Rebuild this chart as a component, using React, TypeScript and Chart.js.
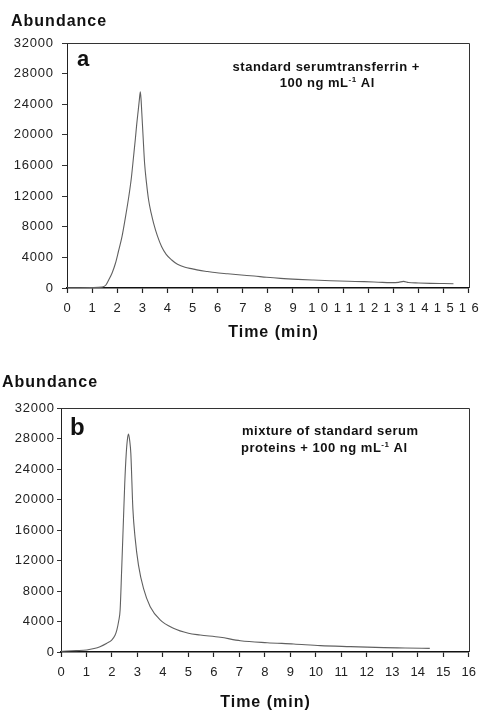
import React, { useEffect, useRef } from 'react';
import { Chart, registerables } from 'chart.js';

Chart.register(...registerables);

const FONT = '"Liberation Sans", Arial, Helvetica, sans-serif';

// ---- Panel a: standard serum transferrin + 100 ng/mL Al ----
const timeA = [0, 0.5, 1.0, 1.4, 1.55, 1.66, 1.8, 1.93, 2.05, 2.19, 2.32, 2.46, 2.56, 2.65, 2.72, 2.78, 2.84, 2.88, 2.92, 2.95, 2.98, 3.03, 3.09, 3.17, 3.25, 3.35, 3.45, 3.6, 3.77, 3.95, 4.17, 4.4, 4.7, 5.0, 5.23, 5.6, 5.89, 6.4, 6.94, 7.45, 7.95, 8.5, 9.19, 9.8, 10.5, 11.2, 11.83, 12.4, 12.88, 13.2, 13.4, 13.6, 14.0, 14.47, 15.0, 15.39];
const abundanceA = [30, 40, 60, 120, 390, 1040, 2000, 3230, 4800, 6700, 9100, 11920, 14300, 17150, 19400, 21500, 23300, 24550, 25640, 24600, 22820, 19800, 16290, 13600, 11490, 9800, 8450, 6800, 5390, 4400, 3660, 3100, 2700, 2500, 2330, 2150, 2020, 1860, 1700, 1560, 1400, 1260, 1130, 1040, 950, 880, 830, 760, 700, 740, 870, 720, 660, 610, 580, 560];

// ---- Panel b: mixture of standard serum proteins + 100 ng/mL Al ----
const timeB = [0, 0.22, 0.6, 1.01, 1.3, 1.53, 1.8, 1.99, 2.12, 2.19, 2.26, 2.32, 2.38, 2.45, 2.5, 2.56, 2.61, 2.65, 2.7, 2.74, 2.82, 2.91, 3.04, 3.24, 3.5, 3.89, 4.41, 5.0, 5.46, 6.25, 7.04, 8.09, 9.13, 10.18, 11.36, 12.67, 13.5, 14.47];
const abundanceB = [80, 130, 180, 260, 450, 700, 1150, 1570, 2200, 2880, 4000, 5500, 10750, 17300, 22000, 26050, 28000, 28580, 27600, 26050, 18800, 14900, 11400, 8300, 5940, 4200, 3100, 2450, 2230, 1930, 1480, 1220, 1050, 830, 700, 570, 530, 480];

const xTicks = [0, 1, 2, 3, 4, 5, 6, 7, 8, 9, 10, 11, 12, 13, 14, 15, 16];
const yTicks = [0, 4000, 8000, 12000, 16000, 20000, 24000, 28000, 32000];

const yTitle = 'Abundance';
const xTitle = 'Time (min)';
const letterA = 'a';
const letterB = 'b';
const noteA1 = 'standard serumtransferrin +';
const noteA2 = ['100 ng mL', '-1', ' Al'];
const noteB1 = 'mixture of standard serum';
const noteB2 = ['proteins + 100 ng mL', '-1', ' Al'];

type Layout = {
  height: number;
  yW: number; xH: number; padTop: number; padRight: number;
  yTickLen: number; yPad: number; xPad: number; xLs: number;
  titleX: number; titleY: number;
  letter: string; letterX: number; letterY: number; letterSize: number;
  note1: string; note1X: number; note1Y: number;
  note2: string[]; note2X: number; note2Y: number;
  xTitleX: number; xTitleY: number;
};

function drawText(ctx: CanvasRenderingContext2D, s: string, x: number, y: number, font: string, ls: number, align: 'left' | 'center') {
  ctx.save();
  ctx.font = font;
  (ctx as any).letterSpacing = ls + 'px';
  ctx.fillStyle = '#111';
  ctx.textBaseline = 'alphabetic';
  ctx.textAlign = 'left';
  const w = ctx.measureText(s).width - ls;
  const x0 = align === 'center' ? x - w / 2 : x;
  ctx.fillText(s, x0, y);
  ctx.restore();
}

function drawSupLine(ctx: CanvasRenderingContext2D, parts: string[], cx: number, y: number) {
  const big = `bold 13px ${FONT}`;
  const small = `bold 8px ${FONT}`;
  const ls = 0.5;
  ctx.save();
  (ctx as any).letterSpacing = ls + 'px';
  ctx.fillStyle = '#111';
  ctx.textAlign = 'left';
  ctx.textBaseline = 'alphabetic';
  const fonts = [big, small, big];
  const widths = parts.map((p, i) => { ctx.font = fonts[i]; return ctx.measureText(p).width; });
  const total = widths.reduce((a, b) => a + b, 0) - ls;
  let x = cx - total / 2;
  parts.forEach((p, i) => {
    ctx.font = fonts[i];
    ctx.fillText(p, x, i === 1 ? y - 5 : y);
    x += widths[i];
  });
  ctx.restore();
}

function patchSpacing(scale: any, ls: number, shift: number) {
  if (!scale || scale.__patched) return;
  const orig = scale.drawLabels.bind(scale);
  scale.drawLabels = (area: any) => {
    const ctx = scale.ctx as CanvasRenderingContext2D;
    ctx.save();
    (ctx as any).letterSpacing = ls + 'px';
    ctx.translate(shift, 0);
    orig(area);
    ctx.restore();
  };
  scale.__patched = true;
}

function makeConfig(times: number[], values: number[], L: Layout): any {
  return {
    type: 'line',
    data: {
      datasets: [{
        data: times.map((t, i) => ({ x: t, y: values[i] })),
        borderColor: '#606060',
        borderWidth: 1.1,
        pointRadius: 0,
        cubicInterpolationMode: 'monotone',
        fill: false,
      }],
    },
    options: {
      animation: false,
      responsive: false,
      events: [],
      layout: { padding: { top: L.padTop, right: L.padRight, left: 0, bottom: 0 } },
      plugins: { legend: { display: false }, tooltip: { enabled: false } },
      scales: {
        x: {
          type: 'linear', min: 0, max: 16,
          afterBuildTicks: (s: any) => { s.ticks = xTicks.map(v => ({ value: v })); },
          afterFit: (s: any) => { s.height = L.xH; },
          ticks: { autoSkip: false, maxRotation: 0, minRotation: 0, padding: L.xPad, color: '#222', font: { size: 13, family: FONT }, callback: (v: any) => String(v) },
          grid: { display: true, drawOnChartArea: false, drawTicks: true, tickLength: 5, tickColor: '#222', tickWidth: 1.2, color: '#222' },
          border: { display: true, color: '#111', width: 1.5 },
        },
        y: {
          type: 'linear', min: 0, max: 32000,
          afterBuildTicks: (s: any) => { s.ticks = yTicks.map(v => ({ value: v })); },
          afterFit: (s: any) => { s.width = L.yW; },
          ticks: { autoSkip: false, padding: L.yPad, color: '#222', font: { size: 13, family: FONT }, callback: (v: any) => String(v) },
          grid: { display: true, drawOnChartArea: false, drawTicks: true, tickLength: L.yTickLen, tickColor: '#333', tickWidth: 1, color: '#333' },
          border: { display: true, color: '#222', width: 1 },
        },
      },
    },
    plugins: [{
      id: 'decor',
      afterUpdate(chart: any) {
        patchSpacing(chart.scales.x, L.xLs, L.xLs / 2);
        patchSpacing(chart.scales.y, 0.8, 0.8);
      },
      afterDraw(chart: any) {
        const ctx = chart.ctx as CanvasRenderingContext2D;
        const a = chart.chartArea;
        ctx.save();
        ctx.strokeStyle = '#333';
        ctx.lineWidth = 1;
        ctx.beginPath();
        ctx.moveTo(a.left, Math.round(a.top) + 0.5);
        ctx.lineTo(Math.round(a.right) + 0.5, Math.round(a.top) + 0.5);
        ctx.lineTo(Math.round(a.right) + 0.5, a.bottom);
        ctx.stroke();
        ctx.restore();
        drawText(ctx, yTitle, L.titleX, L.titleY, `bold 16px ${FONT}`, 1, 'left');
        drawText(ctx, L.letter, L.letterX, L.letterY, `bold ${L.letterSize}px ${FONT}`, 0, 'left');
        drawText(ctx, L.note1, L.note1X, L.note1Y, `bold 13px ${FONT}`, 0.5, 'center');
        drawSupLine(ctx, L.note2, L.note2X, L.note2Y);
        drawText(ctx, xTitle, L.xTitleX, L.xTitleY, `bold 16px ${FONT}`, 1, 'center');
      },
    }],
  };
}

const layoutA: Layout = {
  height: 355, yW: 67, xH: 67, padTop: 43, padRight: 12,
  yTickLen: 5, yPad: 9, xPad: 8, xLs: 5.5,
  titleX: 11, titleY: 26,
  letter: letterA, letterX: 77, letterY: 66, letterSize: 22,
  note1: noteA1, note1X: 326, note1Y: 71,
  note2: noteA2, note2X: 327, note2Y: 87,
  xTitleX: 273, xTitleY: 337,
};

const layoutB: Layout = {
  height: 356, yW: 61, xH: 59, padTop: 53, padRight: 15,
  yTickLen: 4, yPad: 3, xPad: 8, xLs: 0,
  titleX: 2, titleY: 32,
  letter: letterB, letterX: 70, letterY: 80, letterSize: 24,
  note1: noteB1, note1X: 330, note1Y: 80,
  note2: noteB2, note2X: 324, note2Y: 97,
  xTitleX: 265, xTitleY: 352,
};

function Panel({ times, values, L, top }: { times: number[]; values: number[]; L: Layout; top: number }) {
  const ref = useRef<HTMLCanvasElement | null>(null);
  useEffect(() => {
    if (!ref.current) return;
    const chart = new Chart(ref.current, makeConfig(times, values, L));
    return () => chart.destroy();
  }, []);
  return (
    <div style={{ position: 'absolute', left: 0, top, width: 484, height: L.height }}>
      <canvas ref={ref} width={484} height={L.height} style={{ width: 484, height: L.height, display: 'block' }} />
    </div>
  );
}

export default function App() {
  return (
    <div style={{ position: 'absolute', left: 0, top: 0, width: 484, height: 711, background: '#fff' }}>
      <Panel times={timeA} values={abundanceA} L={layoutA} top={0} />
      <Panel times={timeB} values={abundanceB} L={layoutB} top={355} />
    </div>
  );
}
